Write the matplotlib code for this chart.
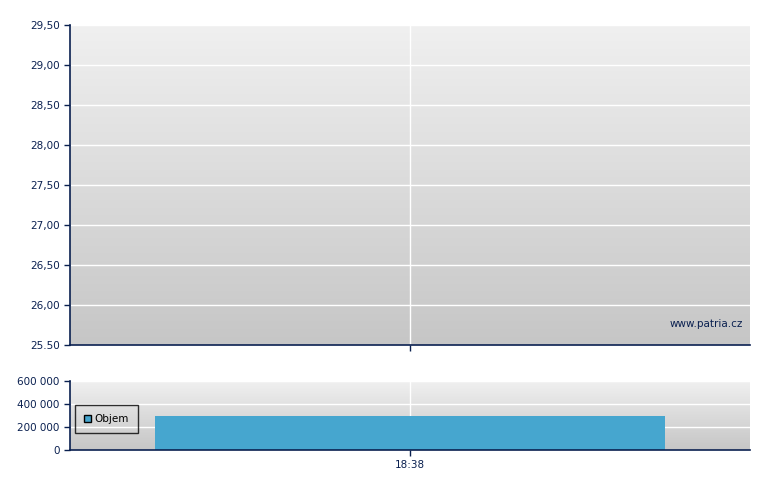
import numpy as np
import matplotlib.pyplot as plt
from matplotlib.patches import Patch
from matplotlib.colors import LinearSegmentedColormap

# data
times = ['18:38']
volume = [295000]
price_ticks = [25.5, 26.0, 26.5, 27.0, 27.5, 28.0, 28.5, 29.0, 29.5]
price_labels = ['25.50', '26,00', '26,50', '27,00', '27,50', '28,00', '28,50', '29,00', '29,50']
vol_ticks = [0, 200000, 400000, 600000]
vol_labels = ['0', '200 000', '400 000', '600 000']

navy = '#0a2050'
bar_color = '#46a6cf'

fig = plt.figure(figsize=(7.8, 4.9), dpi=100)
ax1 = fig.add_axes([70/780, 1-345/490, 680/780, 320/490])
ax2 = fig.add_axes([70/780, 1-450/490, 680/780, 69/490])

cmap = LinearSegmentedColormap.from_list('g', ['#f0f0f0', '#c6c6c6'])
grad = np.linspace(0, 1, 256).reshape(-1, 1)
for ax in (ax1, ax2):
    ax.imshow(grad, cmap=cmap, extent=[0, 1, 0, 1], transform=ax.transAxes,
              aspect='auto', zorder=0)
    for s in ('top', 'right'):
        ax.spines[s].set_visible(False)
    for s in ('left', 'bottom'):
        ax.spines[s].set_color(navy)
        ax.spines[s].set_linewidth(1.2)
        ax.spines[s].set_zorder(4)
    ax.tick_params(colors=navy, labelsize=7.5, length=4, direction='out', width=1)

# price panel (no trades drawn)
ax1.set_xlim(-0.5, 0.5)
ax1.set_ylim(25.5, 29.5)
ax1.set_yticks(price_ticks)
ax1.set_yticklabels(price_labels)
ax1.set_xticks([0])
ax1.set_xticklabels([''])
for t in price_ticks:
    ax1.axhline(t, color='white', lw=1, zorder=1)
ax1.axvline(0, color='white', lw=1, zorder=1)
ax1.text(0.99, 0.05, 'www.patria.cz', transform=ax1.transAxes, ha='right', va='bottom',
         color=navy, fontsize=7.5)

# volume panel
x = np.arange(len(times))
ax2.bar(x, volume, width=0.75, color=bar_color, zorder=3)
ax2.set_xlim(-0.5, 0.5)
ax2.set_ylim(0, 600000)
ax2.set_yticks(vol_ticks)
ax2.set_yticklabels(vol_labels)
ax2.set_xticks(x)
ax2.set_xticklabels(times)
for t in vol_ticks:
    ax2.axhline(t, color='white', lw=1, zorder=1)
for xi in x:
    ax2.axvline(xi, color='white', lw=1, zorder=1)
leg = ax2.legend(handles=[Patch(facecolor=bar_color, edgecolor='black', label='Objem')],
                 loc='center left', bbox_to_anchor=(0.007, 0.45), fontsize=7.5, frameon=True,
                 fancybox=False, handlelength=0.7, handleheight=0.7, handletextpad=0.3,
                 borderpad=0.9, borderaxespad=0)
leg.get_frame().set_edgecolor('black')
leg.get_frame().set_facecolor('none')
leg.set_zorder(5)

fig.savefig('out.png', dpi=100)
